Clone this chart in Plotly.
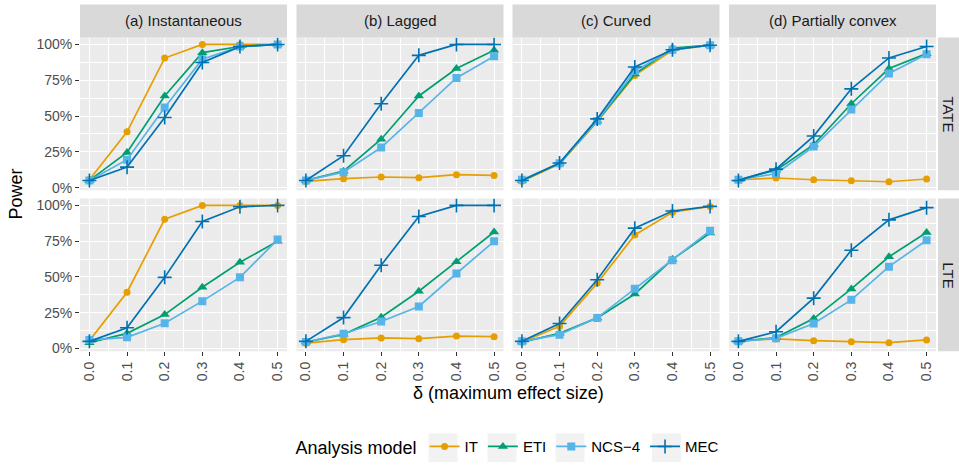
import plotly.graph_objects as go

# ---------------- data ----------------
delta = [0.0, 0.1, 0.2, 0.3, 0.4, 0.5]
x_ticktext = ["0.0", "0.1", "0.2", "0.3", "0.4", "0.5"]
y_tickvals = [0, 0.25, 0.5, 0.75, 1.0]
y_ticktext = ["0%", "25%", "50%", "75%", "100%"]

scenarios = ["(a) Instantaneous", "(b) Lagged", "(c) Curved", "(d) Partially convex"]
estimands = ["TATE", "LTE"]
models = ["IT", "ETI", "NCS\u22124", "MEC"]

# TATE row
tate_IT = [
    [0.055, 0.39, 0.905, 1.0, 1.0, 1.0],
    [0.043, 0.062, 0.074, 0.069, 0.09, 0.085],
    [0.045, 0.165, 0.46, 0.784, 0.96, 0.995],
    [0.055, 0.067, 0.055, 0.048, 0.041, 0.06],
]
tate_ETI = [
    [0.05, 0.246, 0.64, 0.943, 0.986, 1.0],
    [0.05, 0.115, 0.338, 0.64, 0.832, 0.959],
    [0.05, 0.17, 0.465, 0.793, 0.975, 0.995],
    [0.055, 0.122, 0.30, 0.586, 0.832, 0.936],
]
tate_NCS = [
    [0.05, 0.195, 0.56, 0.897, 0.985, 1.0],
    [0.05, 0.108, 0.28, 0.522, 0.766, 0.917],
    [0.055, 0.17, 0.465, 0.816, 0.963, 0.995],
    [0.055, 0.097, 0.287, 0.545, 0.798, 0.931],
]
tate_MEC = [
    [0.05, 0.143, 0.49, 0.874, 0.985, 1.0],
    [0.05, 0.223, 0.586, 0.924, 1.0, 1.0],
    [0.05, 0.172, 0.48, 0.843, 0.963, 0.995],
    [0.05, 0.129, 0.36, 0.69, 0.906, 0.986],
]
# LTE row
lte_IT = [
    [0.055, 0.393, 0.903, 1.0, 1.0, 1.0],
    [0.037, 0.062, 0.074, 0.069, 0.087, 0.083],
    [0.046, 0.156, 0.457, 0.793, 0.952, 0.993],
    [0.055, 0.067, 0.055, 0.048, 0.041, 0.06],
]
lte_ETI = [
    [0.041, 0.106, 0.237, 0.428, 0.602, 0.749],
    [0.045, 0.099, 0.218, 0.40, 0.607, 0.814],
    [0.045, 0.106, 0.214, 0.381, 0.623, 0.807],
    [0.05, 0.076, 0.209, 0.416, 0.641, 0.811],
]
lte_NCS = [
    [0.06, 0.078, 0.177, 0.331, 0.497, 0.761],
    [0.045, 0.103, 0.189, 0.294, 0.524, 0.749],
    [0.05, 0.097, 0.214, 0.418, 0.616, 0.823],
    [0.05, 0.071, 0.175, 0.34, 0.572, 0.756],
]
lte_MEC = [
    [0.05, 0.145, 0.497, 0.887, 0.99, 1.0],
    [0.05, 0.216, 0.582, 0.922, 1.0, 1.0],
    [0.05, 0.175, 0.48, 0.841, 0.961, 0.993],
    [0.05, 0.117, 0.352, 0.687, 0.899, 0.984],
]

values = {
    "TATE": {"IT": tate_IT, "ETI": tate_ETI, "NCS\u22124": tate_NCS, "MEC": tate_MEC},
    "LTE": {"IT": lte_IT, "ETI": lte_ETI, "NCS\u22124": lte_NCS, "MEC": lte_MEC},
}

# ---------------- styles ----------------
W, H = 959, 468
colors = {"IT": "#E69F00", "ETI": "#009E73", "NCS\u22124": "#56B4E9", "MEC": "#0072B2"}
symbols = {"IT": "circle", "ETI": "triangle-up", "NCS\u22124": "square", "MEC": "cross-thin"}
sizes = {"IT": 7, "ETI": 9, "NCS\u22124": 8, "MEC": 10}
FONT = "Liberation Sans, Arial, sans-serif"

col_px = [(80, 287), (296.5, 503.5), (512.5, 719.5), (729, 936)]
row_px = [(37, 191.7), (200, 354.7)]
legend_key_centers_px = [443, 502, 570, 666.5]

def fx(p):
    return p / W

def fy(p):
    return 1 - p / H

fig = go.Figure()
layout = {}
for r, est in enumerate(estimands):
    for c, scen in enumerate(scenarios):
        k = r * 4 + c + 1
        xa = "x" if k == 1 else f"x{k}"
        ya = "y" if k == 1 else f"y{k}"
        for m in models:
            fig.add_trace(go.Scatter(
                x=delta, y=values[est][m][c], xaxis=xa, yaxis=ya,
                mode="lines+markers", name=m, legendgroup=m,
                showlegend=(k == 1),
                line=dict(color=colors[m], width=1.7),
                marker=dict(symbol=symbols[m], size=sizes[m], color=colors[m],
                            line=dict(color=colors[m], width=1.6 if m == "MEC" else 0)),
            ))
        x0, x1 = col_px[c]
        y0, y1 = row_px[r]
        layout["xaxis" if k == 1 else f"xaxis{k}"] = dict(
            domain=[fx(x0), fx(x1)], anchor=ya, range=[-0.025, 0.525],
            tickvals=delta, ticktext=x_ticktext,
            showticklabels=(r == 1), ticks="outside" if r == 1 else "",
            ticklen=4, tickwidth=1, tickcolor="#333333", tickangle=-90,
            tickfont=dict(size=14, color="#4D4D4D", family=FONT),
            showgrid=True, gridcolor="white", gridwidth=1.2, zeroline=False,
            showline=False,
            minor=dict(tickvals=[0.05, 0.15, 0.25, 0.35, 0.45], showgrid=True,
                       gridcolor="white", gridwidth=0.6, ticks=""),
        )
        layout["yaxis" if k == 1 else f"yaxis{k}"] = dict(
            domain=[fy(y1), fy(y0)], anchor=xa, range=[-0.0185, 1.0485],
            tickvals=y_tickvals, ticktext=y_ticktext,
            showticklabels=(c == 0), ticks="outside" if c == 0 else "",
            ticklen=4, tickwidth=1, tickcolor="#333333",
            tickfont=dict(size=14, color="#4D4D4D", family=FONT),
            showgrid=True, gridcolor="white", gridwidth=1.2, zeroline=False,
            showline=False,
            minor=dict(tickvals=[0.125, 0.375, 0.625, 0.875], showgrid=True,
                       gridcolor="white", gridwidth=0.6, ticks=""),
        )

shapes = []
annotations = []
# panel backgrounds
for r in range(2):
    for c in range(4):
        x0, x1 = col_px[c]
        y0, y1 = row_px[r]
        shapes.append(dict(type="rect", xref="paper", yref="paper", layer="below",
                           x0=fx(x0), x1=fx(x1), y0=fy(y1), y1=fy(y0),
                           fillcolor="#EBEBEB", line=dict(width=0)))
# legend key backgrounds (ggplot style)
for cx in legend_key_centers_px:
    shapes.append(dict(type="rect", xref="paper", yref="paper", layer="below",
                       x0=fx(cx - 14.5), x1=fx(cx + 14.5), y0=fy(467), y1=fy(438),
                       fillcolor="#F2F2F2", line=dict(width=0)))
# column strips
for c, scen in enumerate(scenarios):
    x0, x1 = col_px[c]
    shapes.append(dict(type="rect", xref="paper", yref="paper",
                       x0=fx(x0), x1=fx(x1), y0=fy(37), y1=fy(3.5),
                       fillcolor="#D9D9D9", line=dict(width=0)))
    annotations.append(dict(text=scen, xref="paper", yref="paper",
                            x=fx((x0 + x1) / 2), y=fy(20), showarrow=False,
                            xanchor="center", yanchor="middle",
                            font=dict(size=15, color="#1A1A1A", family=FONT)))
# row strips
for r, est in enumerate(estimands):
    y0, y1 = row_px[r]
    shapes.append(dict(type="rect", xref="paper", yref="paper",
                       x0=fx(938), x1=fx(959), y0=fy(y1), y1=fy(y0),
                       fillcolor="#D9D9D9", line=dict(width=0)))
    annotations.append(dict(text=est, xref="paper", yref="paper",
                            x=fx(948.5), y=fy((y0 + y1) / 2), showarrow=False,
                            textangle=90, xanchor="center", yanchor="middle",
                            font=dict(size=15, color="#1A1A1A", family=FONT)))
# axis titles
annotations.append(dict(text="Power", xref="paper", yref="paper",
                        x=fx(16), y=fy(196), showarrow=False, textangle=-90,
                        xanchor="center", yanchor="middle",
                        font=dict(size=18, color="#000000", family=FONT)))
annotations.append(dict(text="\u03b4 (maximum effect size)", xref="paper", yref="paper",
                        x=fx(508), y=fy(397), showarrow=False,
                        xanchor="center", yanchor="middle",
                        font=dict(size=18, color="#000000", family=FONT)))

fig.update_layout(
    **layout,
    shapes=shapes, annotations=annotations,
    width=W, height=H, margin=dict(l=0, r=0, t=0, b=0),
    paper_bgcolor="white", plot_bgcolor="rgba(0,0,0,0)",
    font=dict(family=FONT),
    legend=dict(orientation="h", x=fx(509), y=fy(452), xanchor="center", yanchor="middle",
                title=dict(text="Analysis model", side="left",
                           font=dict(size=18, color="#000000", family=FONT)),
                font=dict(size=15, color="#000000", family=FONT),
                bgcolor="rgba(0,0,0,0)", itemwidth=30, traceorder="normal"),
)

fig.write_html("out.html")
